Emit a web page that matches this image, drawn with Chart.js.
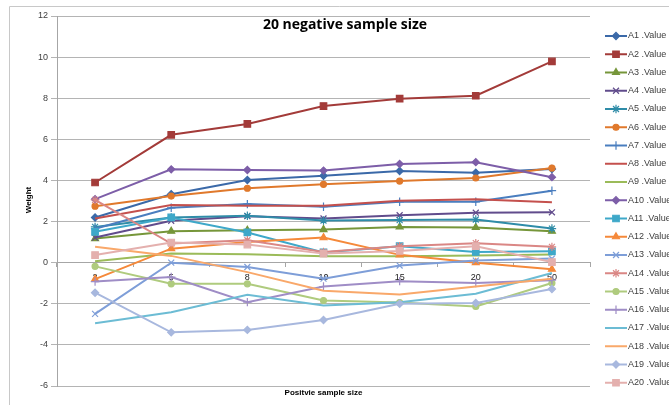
<!DOCTYPE html>
<html>
<head>
<meta charset="utf-8">
<script src="https://cdn.jsdelivr.net/npm/chart.js@4"></script>
<style>
  html, body { margin: 0; padding: 0; background: #fff; }
  #wrap { width: 669px; height: 405px; position: relative; }
</style>
</head>
<body>
<div id="wrap"><canvas id="chart" width="669" height="405"></canvas></div>
<script>
const categories = ['2', '5', '8', '10', '15', '20', '50'];

const a1 = [2.2, 3.33, 4.02, 4.23, 4.46, 4.38, 4.56];
const a2 = [3.9, 6.22, 6.75, 7.62, 7.98, 8.12, 9.79];
const a3 = [1.17, 1.53, 1.58, 1.61, 1.74, 1.71, 1.53];
const a4 = [1.22, 2.04, 2.26, 2.15, 2.31, 2.43, 2.45];
const a5 = [1.74, 2.2, 2.28, 2.05, 2.07, 2.1, 1.66];
const a6 = [2.75, 3.24, 3.62, 3.81, 3.97, 4.12, 4.6];
const a7 = [1.65, 2.67, 2.85, 2.72, 2.96, 2.96, 3.5];
const a8 = [2.15, 2.8, 2.77, 2.77, 3.01, 3.08, 2.94];
const a9 = [0.07, 0.44, 0.41, 0.31, 0.31, 0.35, 0.4];
const a10 = [3.09, 4.54, 4.51, 4.48, 4.8, 4.89, 4.16];
const a11 = [1.5, 2.2, 1.47, 0.5, 0.8, 0.52, 0.55];
const a12 = [-0.8, 0.68, 1.0, 1.22, 0.38, 0.0, -0.32];
const a13 = [-2.49, 0.0, -0.21, -0.78, -0.14, 0.1, 0.2];
const a14 = [3.05, 0.93, 1.09, 0.52, 0.8, 0.95, 0.77];
const a15 = [-0.18, -1.03, -1.03, -1.84, -1.94, -2.13, -0.99];
const a16 = [-0.92, -0.7, -1.92, -1.16, -0.9, -0.99, -0.85];
const a17 = [-2.95, -2.41, -1.56, -2.08, -1.93, -1.51, -0.5];
const a18 = [0.77, 0.33, -0.46, -1.37, -1.55, -1.16, -0.78];
const a19 = [-1.46, -3.39, -3.27, -2.79, -2.0, -1.96, -1.28];
const a20 = [0.37, 0.98, 0.88, 0.44, 0.57, 0.8, 0.03];

const seriesNames = ['A1 .Value', 'A2 .Value', 'A3 .Value', 'A4 .Value', 'A5 .Value',
  'A6 .Value', 'A7 .Value', 'A8 .Value', 'A9 .Value', 'A10 .Value',
  'A11 .Value', 'A12 .Value', 'A13 .Value', 'A14 .Value', 'A15 .Value',
  'A16 .Value', 'A17 .Value', 'A18 .Value', 'A19 .Value', 'A20 .Value'];
const seriesValues = [a1, a2, a3, a4, a5, a6, a7, a8, a9, a10,
  a11, a12, a13, a14, a15, a16, a17, a18, a19, a20];

const colors = ['#3B69A8', '#A33B39', '#76963A', '#614C8C', '#2F8CA8', '#E0792C',
  '#4A7EBF', '#C4504D', '#9BBB59', '#7D5EA8', '#3EA8C9', '#F5893A',
  '#7E9ED8', '#DA8785', '#AFCB7E', '#9F8DC6', '#6CBCD4', '#F9A86A',
  '#A8B8DE', '#E4B0AE'];
const markers = ['rectRot', 'rect', 'triangle', 'crossRot', 'star', 'circle',
  'cross', false, false, 'rectRot', 'rect', 'triangle',
  'crossRot', 'star', 'circle', 'cross', false, false, 'rectRot', 'rect'];
const markerSize = { rectRot: 3.6, rect: 4.6, triangle: 4, crossRot: 4.2, star: 4.2, circle: 3, cross: 4.2 };

const datasets = seriesValues.map((vals, i) => ({
  label: seriesNames[i],
  data: vals,
  borderColor: colors[i],
  backgroundColor: colors[i],
  borderWidth: 2,
  pointStyle: markers[i],
  pointRadius: markers[i] ? markerSize[markers[i]] : 0,
  pointBorderWidth: 1.2,
  tension: 0,
  order: 19 - i
}));

// outer frame, titles and the legend on the right
const decorations = {
  id: 'decorations',
  beforeDraw(chart) {
    const ctx = chart.ctx;
    ctx.save();
    ctx.strokeStyle = '#C8C8C8';
    ctx.lineWidth = 1;
    ctx.beginPath();
    ctx.moveTo(9.5, 405);
    ctx.lineTo(9.5, 6.5);
    ctx.lineTo(669, 6.5);
    ctx.stroke();
    ctx.restore();
  },
  afterDraw(chart) {
    const ctx = chart.ctx;
    const area = chart.chartArea;
    ctx.save();
    ctx.fillStyle = '#000';
    ctx.textAlign = 'center';
    ctx.textBaseline = 'middle';
    ctx.font = 'bold 14px "Open Sans"';
    ctx.fillText('20 negative sample size', 345, 25);

    ctx.font = 'bold 8px "Liberation Sans"';
    ctx.fillText('Positvie sample size', (area.left + area.right) / 2, 393);

    ctx.translate(29, 200);
    ctx.rotate(-Math.PI / 2);
    ctx.fillText('Weight', 0, 0);
    ctx.restore();

    ctx.save();
    ctx.font = '9px "Liberation Sans"';
    ctx.textBaseline = 'middle';
    ctx.textAlign = 'left';
    seriesNames.forEach((name, i) => {
      const y = 36 + i * 18.25;
      ctx.strokeStyle = colors[i];
      ctx.fillStyle = colors[i];
      ctx.lineWidth = 2;
      ctx.beginPath();
      ctx.moveTo(605, y);
      ctx.lineTo(627, y);
      ctx.stroke();
      if (markers[i]) {
        ctx.lineWidth = 1.2;
        Chart.helpers.drawPoint(ctx, { pointStyle: markers[i], radius: markerSize[markers[i]], rotation: 0, borderWidth: 1.2 }, 616, y);
      }
      ctx.fillStyle = '#404040';
      ctx.fillText(name, 628, y);
    });
    ctx.restore();
  }
};

new Chart(document.getElementById('chart'), {
  type: 'line',
  data: { labels: categories, datasets: datasets },
  options: {
    responsive: false,
    animation: false,
    layout: { padding: { left: 10, right: 79, top: 16, bottom: 19 } },
    plugins: {
      legend: { display: false },
      title: { display: false },
      tooltip: { enabled: false }
    },
    scales: {
      x: {
        type: 'category',
        offset: true,
        position: { y: 0 },
        afterFit: (scale) => { scale.height = 0; },
        grid: { drawOnChartArea: false, drawTicks: true, tickLength: 4, color: '#A6A6A6', offset: true },
        border: { display: true, color: '#A6A6A6', width: 1 },
        ticks: { color: '#202020', font: { family: 'Liberation Sans', size: 9 }, padding: 5, maxRotation: 0 }
      },
      y: {
        min: -6,
        max: 12,
        afterFit: (scale) => { scale.width = 47; },
        ticks: { stepSize: 2, color: '#404040', font: { family: 'Liberation Sans', size: 9 }, padding: 3 },
        grid: { color: '#B4B4B4', tickLength: 6, drawTicks: true },
        border: { display: true, color: '#A6A6A6', width: 1 }
      }
    }
  },
  plugins: [decorations]
});
</script>
</body>
</html>
